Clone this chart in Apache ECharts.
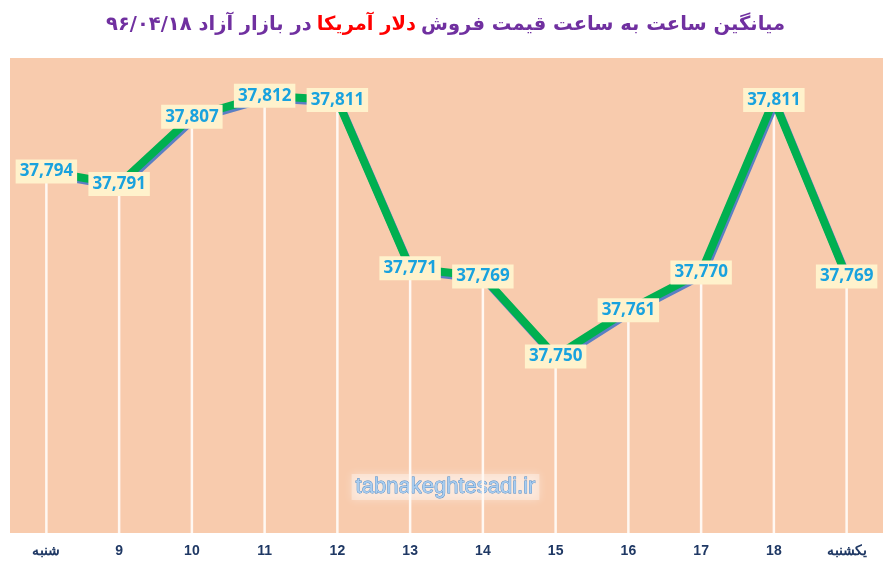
<!DOCTYPE html>
<html>
<head>
<meta charset="utf-8">
<script src="https://cdn.jsdelivr.net/npm/echarts@6/dist/echarts.min.js"></script>
<style>html,body{margin:0;padding:0;background:#fff}#c{width:891px;height:567px}</style>
</head>
<body>
<div id="c"></div>
<script>
const categories = ['شنبه', '9', '10', '11', '12', '13', '14', '15', '16', '17', '18', 'یکشنبه'];
const prices = [37794, 37791, 37807, 37812, 37811, 37771, 37769, 37750, 37761, 37770, 37811, 37769];
const titleMain = 'میانگین ساعت به ساعت قیمت فروش';
const titleRed = 'دلار آمریکا';
const titleTail = 'در بازار آزاد ۹۶/۰۴/۱۸';
const watermark = 'tabnakeghtesadi.ir';

const chart = echarts.init(document.getElementById('c'));
chart.setOption({
  backgroundColor: '#ffffff',
  animation: false,
  title: {
    left: 'center', top: 10,
    text: '{p|' + titleTail + '} {r|' + titleRed + '} {p|' + titleMain + '}',
    textStyle: {
      rich: {
        p: { color: '#7030A0', fontSize: 19.5, fontWeight: 'bold', fontFamily: 'DejaVu Sans' },
        r: { color: '#FF0000', fontSize: 19.5, fontWeight: 'bold', fontFamily: 'DejaVu Sans' }
      }
    }
  },
  grid: { left: 10, right: 8, top: 58, bottom: 34, show: true, backgroundColor: '#F8CBAD', borderWidth: 0 },
  xAxis: {
    type: 'category', data: categories, boundaryGap: true,
    axisLine: { show: false }, axisTick: { show: false }, splitLine: { show: false },
    axisLabel: { color: '#1F3864', fontWeight: 'bold', fontSize: 14, margin: 11, fontFamily: 'Liberation Sans Narrow, Liberation Sans' }
  },
  yAxis: { type: 'value', min: 37708, max: 37821, show: false, splitLine: { show: false } },
  graphic: [{
    type: 'text', left: 'center', top: 474, z: 1,
    style: {
      text: watermark, fontSize: 22, fontFamily: 'Liberation Sans Narrow, Liberation Sans',
      fill: '#A9CDEF', stroke: '#4A86C5', lineWidth: 0.8,
      shadowColor: '#ffffff', shadowBlur: 8,
      backgroundColor: 'rgba(255,255,255,0.35)', padding: [2, 4]
    }
  }],
  series: [
    {
      type: 'bar', data: prices, barWidth: 2.5, z: 2,
      itemStyle: { color: '#FFF8F2' }, silent: true
    },
    {
      type: 'line', data: prices, z: 5,
      symbol: 'circle', symbolSize: 1, showSymbol: true,
      itemStyle: { color: 'rgba(0,0,0,0)' },
      lineStyle: { color: '#00B050', width: 8, shadowColor: '#5B7FC4', shadowOffsetX: 1.5, shadowOffsetY: 2.5, shadowBlur: 0 },
      label: {
        show: true, position: 'inside',
        formatter: p => p.value.toLocaleString('en-US'),
        color: '#19A2DE', fontWeight: 'bold', fontSize: 17, fontFamily: 'Open Sans',
        backgroundColor: '#FFF2CC', padding: [4, 4, 3, 4]
      }
    }
  ]
});
</script>
</body>
</html>
